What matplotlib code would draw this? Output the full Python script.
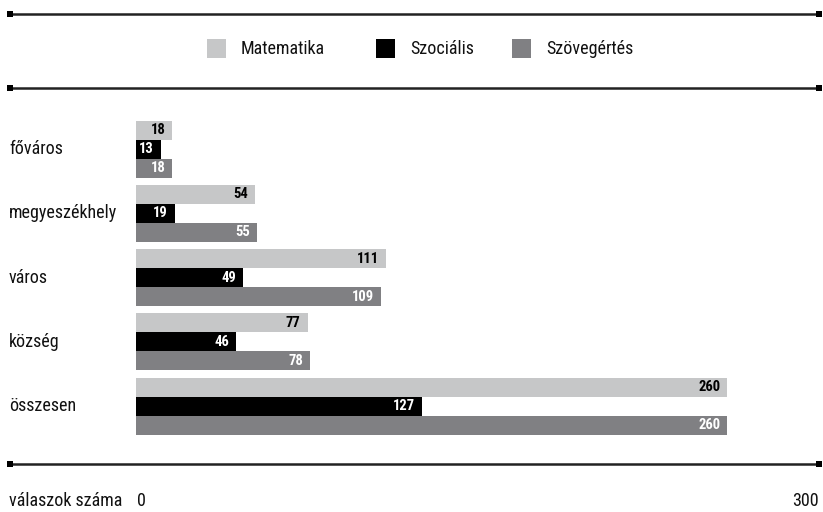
import matplotlib
matplotlib.use("Agg")
import matplotlib.pyplot as plt
from matplotlib.lines import Line2D
from matplotlib.patches import Rectangle
import matplotlib.transforms as mtransforms
import numpy as np

plt.rcParams['font.family'] = ['Liberation Sans Narrow', 'Roboto Condensed', 'DejaVu Sans']

categories = ['főváros', 'megyeszékhely', 'város', 'község', 'összesen']
series = ['Matematika', 'Szociális', 'Szövegértés']
matematika = [18, 54, 111, 77, 260]
szocialis = [13, 19, 49, 46, 127]
szovegertes = [18, 55, 109, 78, 260]
axis_label = 'válaszok száma'
x_ticks = [0, 300]

colors = ['#c6c7c8', '#000000', '#808083']
text_colors = ['#000000', '#ffffff', '#ffffff']

W, H = 823, 512
fig = plt.figure(figsize=(W / 100, H / 100), dpi=100)

def fx(px):
    return px / W

def fy(py):
    return 1 - py / H

# bar area: value 0 sits at 131px, 300 at 819px, bars visible from 136px
zero_px, end_px, clip_px = 131, 819, 136
top_px, bottom_px = 117, 438.3
scale = (x_ticks[-1] - x_ticks[0]) / (end_px - zero_px)
ax = fig.add_axes([fx(clip_px), fy(bottom_px), fx(end_px - clip_px), (bottom_px - top_px) / H])
ax.set_xlim(x_ticks[0] + (clip_px - zero_px) * scale, x_ticks[-1])
ax.set_ylim(len(categories) - 0.5, -0.5)
ax.axis('off')

values = [matematika, szocialis, szovegertes]
bh = 0.296
pad = 7 * scale
y = np.arange(len(categories))
for k, vals in enumerate(values):
    yy = y + (k - 1) * bh
    ax.barh(yy, vals, height=bh, color=colors[k], linewidth=0)
    for yi, v in zip(yy, vals):
        ax.text(v - pad, yi, str(v), ha='right', va='center', fontsize=10.5,
                fontweight='bold', color=text_colors[k])

lab_tr = mtransforms.blended_transform_factory(fig.transFigure, ax.transData)
for yi, c in zip(y, categories):
    ax.text(fx(9), yi, c, transform=lab_tr, ha='left', va='center',
            fontsize=13, color='#111111')

# horizontal rules with square ends
for py in [14, 88, 464]:
    fig.add_artist(Line2D([fx(10), fx(819)], [fy(py), fy(py)], color='#222222', lw=1.8,
                          marker='s', markersize=4.5, markevery=[0, 1],
                          markerfacecolor='#000000', markeredgewidth=0))

# legend
leg_patch_x = [207, 376, 512]
for k, name in enumerate(series):
    fig.add_artist(Rectangle((fx(leg_patch_x[k]), fy(58)), fx(19), 19 / H,
                             color=colors[k], linewidth=0, transform=fig.transFigure))
    fig.text(fx(leg_patch_x[k] + 34), fy(49), name, ha='left', va='center',
             fontsize=13, color='#111111')

# axis labels
fig.text(fx(9), fy(501), axis_label, ha='left', va='center', fontsize=13, color='#111111')
fig.text(fx(137), fy(501), str(x_ticks[0]), ha='left', va='center', fontsize=13, color='#111111')
fig.text(fx(819), fy(501), str(x_ticks[-1]), ha='right', va='center', fontsize=13, color='#111111')

fig.savefig('out.png', dpi=100)
